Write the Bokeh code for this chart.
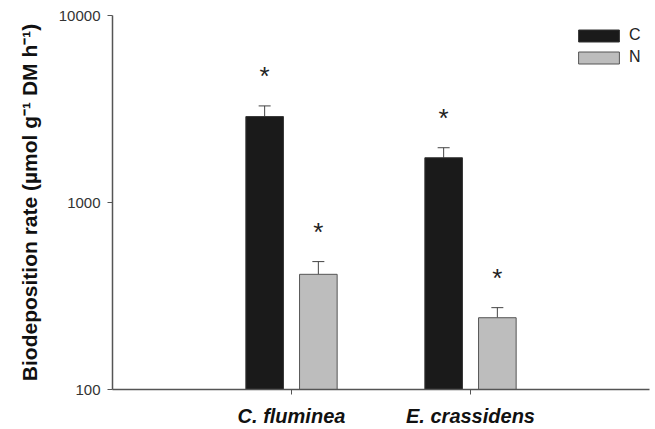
from bokeh.plotting import figure
from bokeh.models import (ColumnDataSource, FactorRange, Whisker, TeeHead, FixedTicker,
                          NumeralTickFormatter, Legend, LegendItem)
from bokeh.transform import dodge
from bokeh.embed import file_html
from bokeh.resources import INLINE

species = ["C. fluminea", "E. crassidens"]
c_mean = [2880, 1735]
c_se = [405, 228]
n_mean = [413, 242]
n_se = [70, 32]
y_ticks = [100, 1000, 10000]

src = ColumnDataSource(dict(
    species=species,
    c_mean=c_mean, c_up=[m + s for m, s in zip(c_mean, c_se)],
    n_mean=n_mean, n_up=[m + s for m, s in zip(n_mean, n_se)],
    star=["*"] * len(species),
))

FONT = "Liberation Sans"

p = figure(width=655, height=429, output_backend="svg", toolbar_location=None,
           x_range=FactorRange(factors=species, range_padding=0.5, range_padding_units="absolute"),
           y_range=(100, 10000), y_axis_type="log",
           min_border_left=112, min_border_right=6, min_border_top=15, min_border_bottom=40)
p.outline_line_color = None
p.xgrid.visible = False
p.ygrid.visible = False
p.background_fill_color = "white"

c_x = dodge("species", -0.15, range=p.x_range)
n_x = dodge("species", 0.15, range=p.x_range)

rc = p.vbar(x=c_x, top="c_mean", bottom=100, width=0.21, source=src,
            fill_color="#1a1a1a", line_color="#333333", line_width=1)
rn = p.vbar(x=n_x, top="n_mean", bottom=100, width=0.21, source=src,
            fill_color="#bdbdbd", line_color="#555555", line_width=1)

for xs, lo, up in [(c_x, "c_mean", "c_up"), (n_x, "n_mean", "n_up")]:
    w = Whisker(base=xs, lower=lo, upper=up, source=src, dimension="height",
                line_color="#444444", line_width=1,
                upper_head=TeeHead(size=12, line_color="#444444", line_width=1),
                lower_head=None)
    p.add_layout(w)

for xs, up in [(c_x, "c_up"), (n_x, "n_up")]:
    p.text(x=xs, y=up, text="star", source=src, text_align="center",
           text_baseline="alphabetic", y_offset=-30, text_font_size="26px",
           text_color="#222222")

# axes
p.yaxis.ticker = FixedTicker(ticks=y_ticks, minor_ticks=[])
p.yaxis.formatter = NumeralTickFormatter(format="0")
p.yaxis.major_label_text_font = FONT
p.yaxis.major_label_text_font_size = "15px"
p.yaxis.major_label_text_color = "#333333"
p.yaxis.major_label_standoff = 7
p.yaxis.major_tick_out = 5
p.yaxis.major_tick_in = 0
p.yaxis.minor_tick_out = 0
p.yaxis.minor_tick_in = 0
p.yaxis.axis_line_color = "#555555"
p.yaxis.axis_line_width = 1.5
p.yaxis.major_tick_line_color = "#555555"
p.yaxis.axis_label = "Biodeposition rate (\u00b5mol g\u207b\u00b9 DM h\u207b\u00b9)"
p.yaxis.axis_label_text_font = FONT
p.yaxis.axis_label_text_font_style = "bold"
p.yaxis.axis_label_text_font_size = "21px"
p.yaxis.axis_label_text_color = "#111111"
p.yaxis.axis_label_standoff = 15

p.xaxis.major_label_text_font = FONT
p.xaxis.major_label_text_font_style = "bold italic"
p.xaxis.major_label_text_font_size = "20px"
p.xaxis.major_label_text_color = "#111111"
p.xaxis.major_label_standoff = 10
p.xaxis.major_tick_out = 5
p.xaxis.major_tick_in = 0
p.xaxis.axis_line_color = "#555555"
p.xaxis.axis_line_width = 1.5
p.xaxis.major_tick_line_color = "#555555"

legend = Legend(items=[LegendItem(label="C", renderers=[rc]), LegendItem(label="N", renderers=[rn])],
                location=(461, 323), orientation="vertical",
                glyph_width=51, glyph_height=15, label_height=15, spacing=4,
                padding=0, margin=0, label_standoff=5,
                label_text_font=FONT, label_text_font_size="16px", label_text_color="#222222",
                border_line_color=None, background_fill_alpha=0)
p.add_layout(legend)

open("out.html", "w").write(file_html(p, INLINE))
